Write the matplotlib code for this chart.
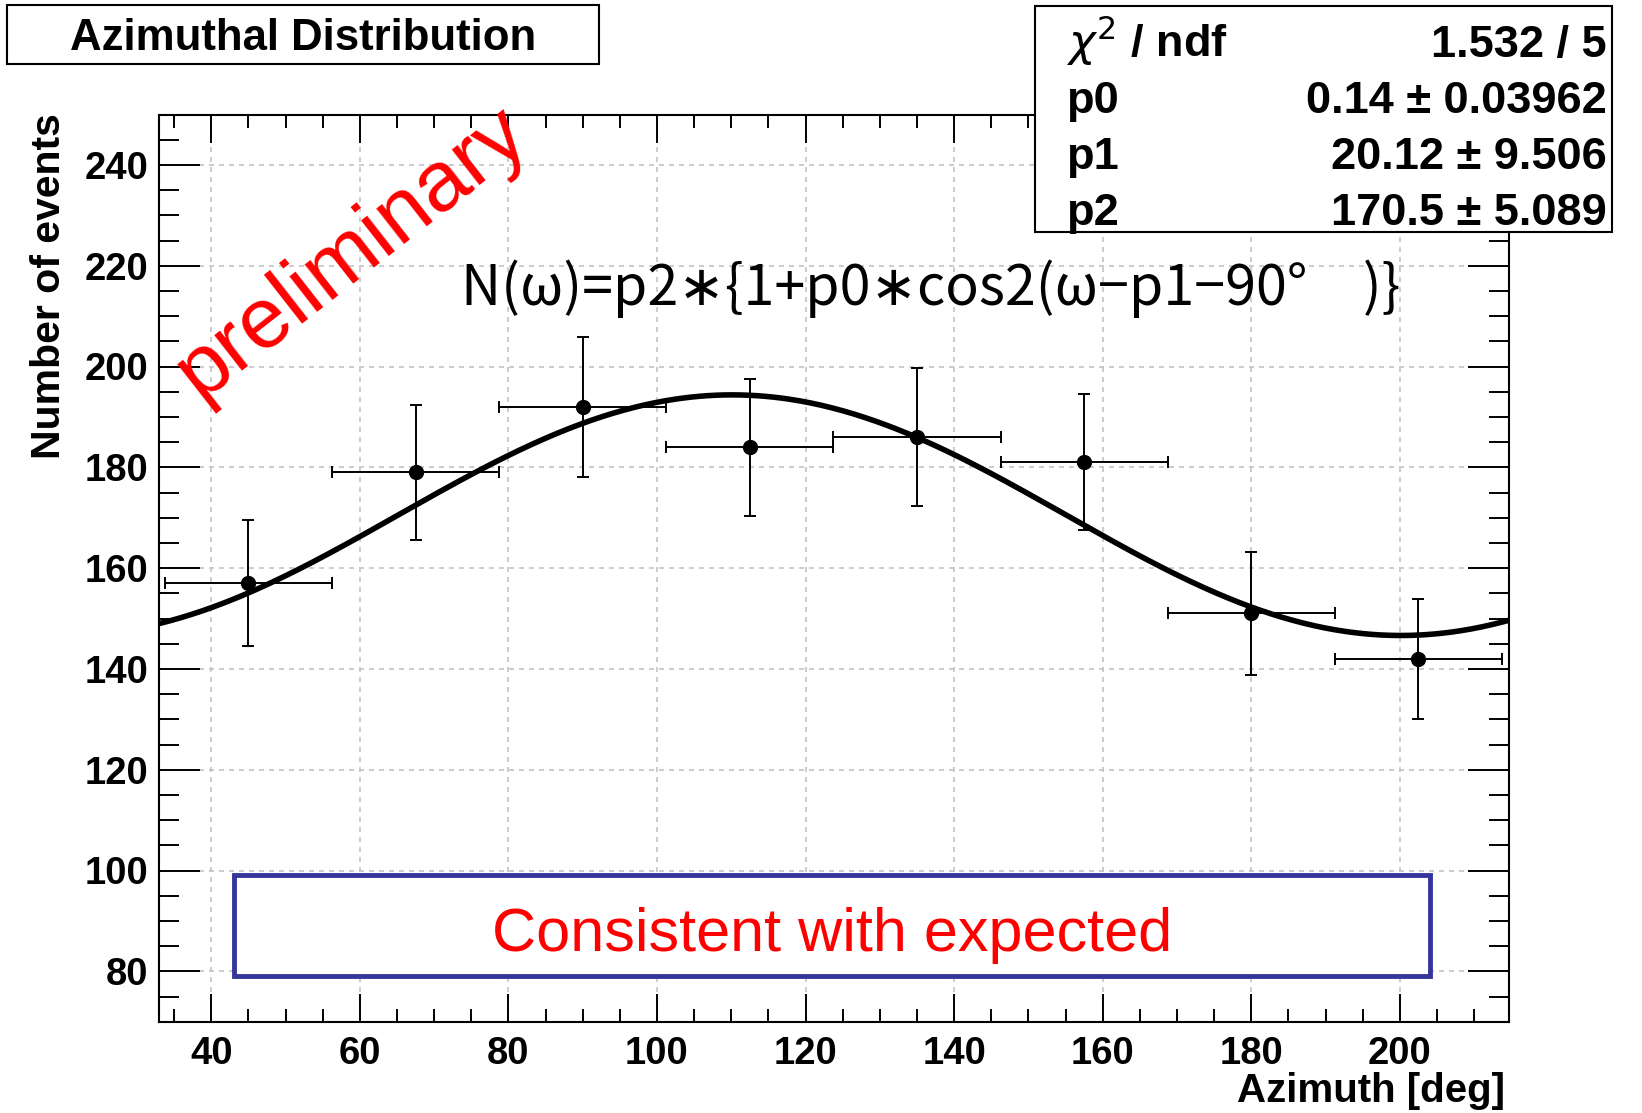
import matplotlib
matplotlib.use('Agg')
import matplotlib.pyplot as plt
import numpy as np
from matplotlib.patches import Rectangle
from matplotlib.ticker import MultipleLocator

W, H = 1642, 1113

# binned azimuth (bin centre, half width) and event counts
azimuth = [45.0, 67.5, 90.0, 112.5, 135.0, 157.5, 180.0, 202.5]
half_width = [11.25, 11.25, 11.25, 11.25, 11.25, 11.25, 11.25, 11.25]
counts = [157, 179, 192, 184, 186, 181, 151, 142]

# fit parameters shown in the stat box
p0, p1, p2 = 0.14, 20.12, 170.5
stat_labels = [r'$\chi^{2}$ / ndf', 'p0', 'p1', 'p2']
stat_values = ['1.532 / 5', '0.14 \u00b1 0.03962', '20.12 \u00b1 9.506', '170.5 \u00b1 5.089']

x_range = (33.0, 214.7)
y_range = (70, 250)

ROOT_FONT = dict(family='Liberation Sans', weight='bold')


def fx(px):
    return px / W


def fy(py):
    return 1 - py / H


fig = plt.figure(figsize=(W / 100, H / 100), dpi=100)
ax = fig.add_axes([fx(159.3), fy(1021.7), fx(1509) - fx(159.3), fy(114.5) - fy(1021.7)])

ax.set_xlim(*x_range)
ax.set_ylim(*y_range)
ax.xaxis.set_major_locator(MultipleLocator(20))
ax.xaxis.set_minor_locator(MultipleLocator(5))
ax.yaxis.set_major_locator(MultipleLocator(20))
ax.yaxis.set_minor_locator(MultipleLocator(5))
ax.grid(which='major', color='#c4c4c4', linestyle=(0, (3, 3)), linewidth=1.2)
ax.set_axisbelow(True)

ax.tick_params(which='both', direction='in', top=True, right=True, width=1.4, color='black')
ax.tick_params(axis='y', which='major', length=29.5, pad=8)
ax.tick_params(axis='y', which='minor', length=14.4)
ax.tick_params(axis='x', which='major', length=20, pad=10)
ax.tick_params(axis='x', which='minor', length=9.4)
for lab in ax.get_xticklabels() + ax.get_yticklabels():
    lab.set_fontfamily('Liberation Sans')
    lab.set_fontweight('bold')
    lab.set_fontsize(27.5)
for sp in ax.spines.values():
    sp.set_linewidth(1.5)

# data
yerr = np.sqrt(counts)
ax.errorbar(azimuth, counts, xerr=half_width, yerr=yerr, fmt='o', color='black',
            markersize=10, elinewidth=1.4, capsize=4.3, capthick=1.4, zorder=3)

# fit function
omega = np.linspace(x_range[0], x_range[1], 500)
fit = p2 * (1 + p0 * np.cos(np.radians(2 * (omega - p1 - 90))))
ax.plot(omega, fit, color='black', linewidth=4, zorder=4, solid_capstyle='butt')

# axis titles
fig.text(fx(49), fy(113), 'Number of events', rotation=90, ha='center', va='top',
         fontsize=29.5, **ROOT_FONT)
fig.text(fx(1505), fy(1101.6), 'Azimuth [deg]', ha='right', va='baseline',
         fontsize=29, **ROOT_FONT)

# title box
fig.add_artist(Rectangle((fx(7), fy(64)), fx(599) - fx(7), fy(5) - fy(64),
                         transform=fig.transFigure, facecolor='white',
                         edgecolor='black', linewidth=1.5, zorder=10))
fig.text(fx(303), fy(50), 'Azimuthal Distribution', ha='center', va='baseline',
         fontsize=31.5, zorder=11, **ROOT_FONT)

# stat box
fig.add_artist(Rectangle((fx(1035), fy(232)), fx(1612) - fx(1035), fy(6) - fy(232),
                         transform=fig.transFigure, facecolor='white',
                         edgecolor='black', linewidth=1.5, zorder=10))
baselines = [56.5, 113, 169, 225]
for lab, val, b in zip(stat_labels, stat_values, baselines):
    fig.text(fx(1066), fy(b), lab, ha='left', va='baseline', fontsize=32.5, zorder=11, **ROOT_FONT)
    fig.text(fx(1607), fy(b), val, ha='right', va='baseline', fontsize=32.5, zorder=11, **ROOT_FONT)

# annotations
fig.text(fx(352), fy(253), 'preliminary', rotation=38, ha='center', va='center',
         color='red', fontsize=62, family='Liberation Sans', zorder=12)
fig.text(fx(461), fy(305), 'N(\u03c9)=p2\u2217{1+p0\u2217cos2(\u03c9\u2212p1\u221290\u00b0\u3000)}',
         ha='left', va='baseline', fontsize=40,
         family=['Noto Sans CJK JP', 'DejaVu Sans'], zorder=12)

fig.add_artist(Rectangle((fx(234), fy(976)), fx(1430) - fx(234), fy(875) - fy(976),
                         transform=fig.transFigure, facecolor='white',
                         edgecolor='#35359c', linewidth=3.5, zorder=12))
fig.text(fx(832), fy(935), 'Consistent with expected', ha='center', va='center',
         color='red', fontsize=44, family='Liberation Sans', zorder=13)

fig.savefig('out.png', dpi=100)
